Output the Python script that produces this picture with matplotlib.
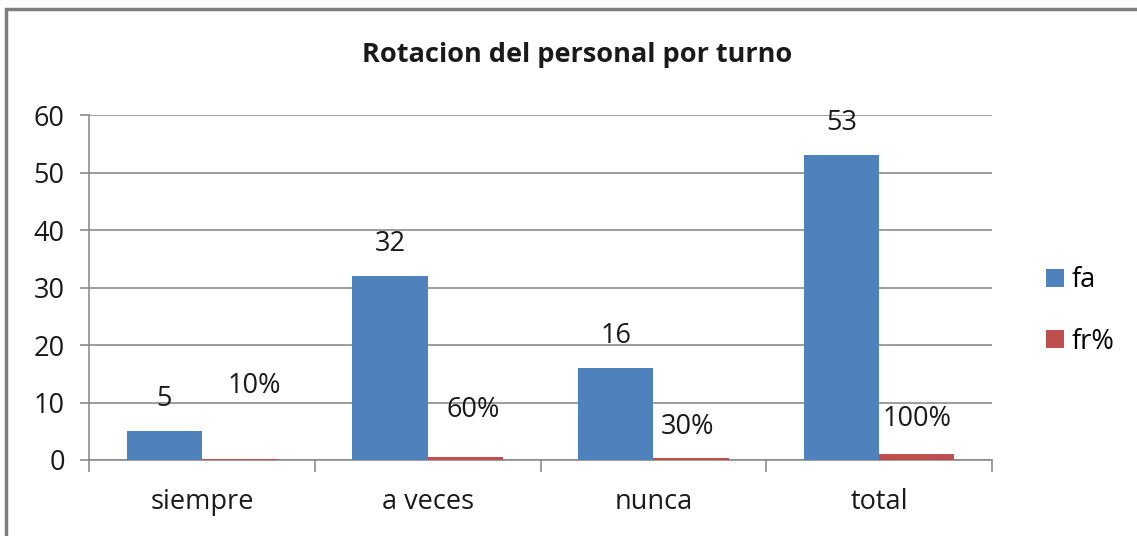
import matplotlib
matplotlib.use("Agg")
import matplotlib.pyplot as plt
from matplotlib.patches import Rectangle
import numpy as np

plt.rcParams['font.family'] = ['Open Sans', 'DejaVu Sans']

categories = ["siempre", "a veces", "nunca", "total"]
fa = [5, 32, 16, 53]
fr = [0.10, 0.60, 0.30, 1.00]
fr_labels = ["10%", "60%", "30%", "100%"]

# hand-placed label offsets for fr% (pixels, like the original sheet)
fr_offsets = [(15, 73), (8, 47), (-3, 31), (0, 35)]

fs = 19.5
fig = plt.figure(figsize=(11.37, 5.36), dpi=100)
ax = fig.add_axes([0.0783, 0.1418, 0.8942 - 0.0783 - 0.0217, 0.7854 - 0.1418])

x = np.arange(len(categories))
w = 1 / 3
b1 = ax.bar(x - w / 2, fa, w, color="#4F81BD", label="fa", zorder=3)
b2 = ax.bar(x + w / 2, fr, w, color="#C0504D", label="fr%", zorder=3)

px = 0.72  # pixels -> points
for rect, v in zip(b1, fa):
    ax.annotate(str(v), (rect.get_x() + rect.get_width() / 2, v),
                xytext=(0, 32 * px), textcoords="offset points",
                ha="center", va="center", fontsize=fs, color="#1a1a1a")
for rect, v, lab, off in zip(b2, fr, fr_labels, fr_offsets):
    ax.annotate(lab, (rect.get_x() + rect.get_width() / 2, v),
                xytext=(off[0] * px, off[1] * px), textcoords="offset points",
                ha="center", va="center", fontsize=fs, color="#1a1a1a")

ax.set_xlim(-0.5, len(categories) - 0.5)
ax.set_ylim(0, 60)
ax.set_yticks(range(0, 61, 10))
ax.yaxis.grid(True, color="#8c8c8c", linewidth=1.2, zorder=0)
ax.tick_params(axis="y", length=9 * px, width=1.2, color="#8c8c8c",
               labelsize=fs, pad=11, labelcolor="#1a1a1a")

ax.set_xticks(np.arange(len(categories) + 1) - 0.5)
ax.set_xticklabels([])
ax.set_xticks(x, minor=True)
ax.set_xticklabels(categories, minor=True)
ax.tick_params(axis="x", which="major", length=12 * px, width=1.2, color="#8c8c8c")
ax.tick_params(axis="x", which="minor", length=0, labelsize=fs, pad=20,
               labelcolor="#1a1a1a")

for s in ["top", "right"]:
    ax.spines[s].set_visible(False)
for s in ["left", "bottom"]:
    ax.spines[s].set_color("#8c8c8c")
    ax.spines[s].set_linewidth(1.2)

fig.text(577 / 1137, 1 - 55 / 536, "Rotacion del personal por turno",
         ha="center", va="center", fontsize=fs, fontweight="bold", color="#1a1a1a")

fig.legend(handles=[b1, b2], labels=["fa", "fr%"], loc="center left",
           bbox_to_anchor=(1022 / 1137, 1 - 311 / 536), frameon=False,
           fontsize=fs, handlelength=0.65, handleheight=0.65, handletextpad=0.3,
           labelspacing=1.25)

# chart frame
fig.patches.append(Rectangle((6 / 1137, -0.05), 1.2, 1 - 9 / 536 + 0.05,
                             transform=fig.transFigure, fill=False,
                             edgecolor="#808080", linewidth=2.5))

fig.savefig("out.png", dpi=100)
